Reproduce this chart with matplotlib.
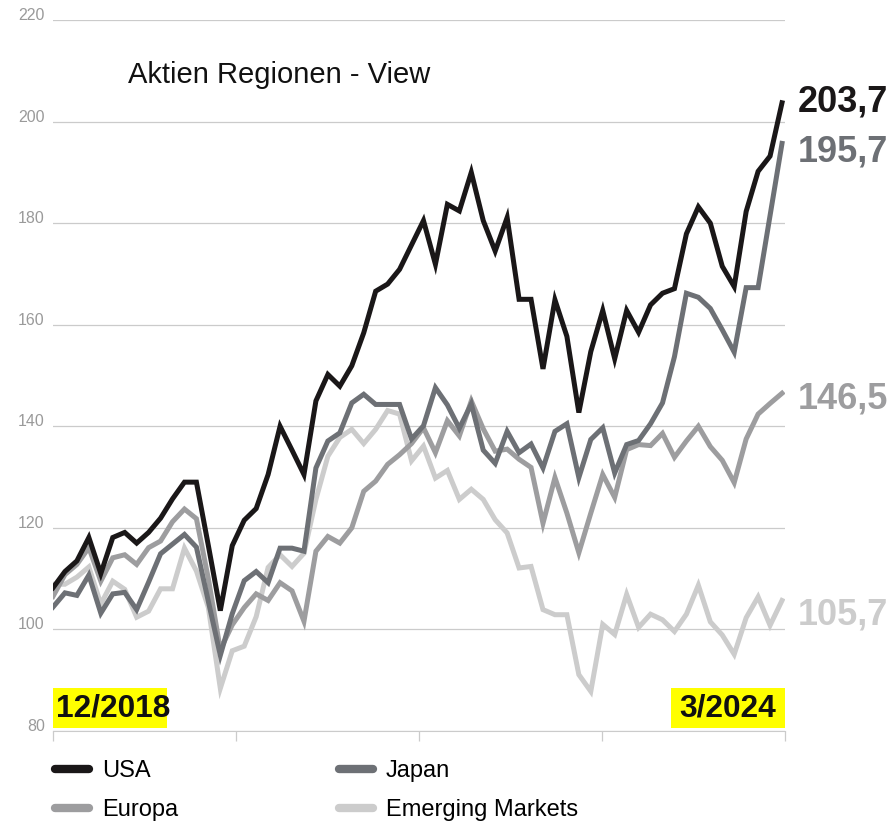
import numpy as np
import matplotlib
matplotlib.use("Agg")
import matplotlib.pyplot as plt
from matplotlib.lines import Line2D
from matplotlib.patches import Rectangle

plt.rcParams['font.family'] = ['Liberation Sans', 'DejaVu Sans']

# Indexwerte (Start 12/2018 = ca. 100), monatlich bis 3/2024
usa = [108.2, 111.4, 113.5, 118.1, 111.0, 118.1, 119.1, 117.0, 119.1, 121.9,
       125.7, 129.0, 129.0, 116.5, 103.7, 116.5, 121.5, 123.8, 130.5, 140.0,
       135.3, 130.5, 145.0, 150.2, 147.9, 151.9, 158.4, 166.6, 168.0, 170.9,
       175.7, 180.5, 171.9, 183.7, 182.4, 190.0, 180.5, 174.5, 181.1, 165.0,
       165.0, 151.3, 164.9, 157.7, 142.7, 154.7, 162.8, 153.3, 162.8, 158.5,
       163.9, 166.2, 167.1, 177.9, 183.2, 180.0, 171.5, 167.5, 182.3, 190.2,
       193.2, 203.7]
japan = [104.4, 107.2, 106.7, 110.7, 103.2, 107.0, 107.3, 103.9, 109.3, 114.9,
         116.8, 118.7, 116.2, 105.5, 94.9, 103.1, 109.6, 111.4, 109.2, 116.0,
         116.0, 115.4, 131.8, 137.1, 138.7, 144.6, 146.3, 144.3, 144.3, 144.3,
         137.5, 140.1, 147.6, 144.2, 139.6, 144.4, 135.3, 132.7, 139.0, 134.8,
         136.5, 131.8, 139.0, 140.5, 129.9, 137.4, 139.7, 130.8, 136.4, 137.2,
         140.5, 144.6, 153.7, 166.2, 165.4, 163.2, 159.0, 154.6, 167.3, 167.3,
         181.5, 195.7]
europa = [106.5, 110.8, 112.8, 116.1, 109.5, 114.1, 114.7, 112.8, 116.1, 117.4,
          121.2, 123.7, 121.8, 110.0, 96.0, 100.9, 104.3, 107.0, 105.7, 109.2,
          107.6, 101.6, 115.4, 118.3, 117.0, 120.0, 127.2, 129.2, 132.5, 134.4,
          136.6, 139.7, 134.8, 141.1, 138.1, 145.0, 139.5, 135.1, 135.5, 133.5,
          131.9, 120.9, 129.9, 122.9, 115.1, 122.9, 130.5, 126.0, 135.4, 136.4,
          136.2, 138.6, 133.9, 137.1, 140.0, 136.0, 133.3, 128.9, 137.5, 142.4,
          144.5, 146.5]
em = [108.9, 108.9, 110.3, 112.3, 105.0, 109.5, 107.9, 102.4, 103.6, 108.0,
      108.0, 116.0, 111.5, 104.3, 88.4, 95.8, 96.7, 102.5, 112.2, 114.7,
      112.4, 115.0, 125.6, 134.1, 137.8, 139.4, 136.6, 139.4, 143.1, 142.4,
      133.2, 136.1, 129.8, 131.3, 125.6, 127.6, 125.6, 121.6, 119.0, 112.1,
      112.4, 103.9, 102.9, 102.9, 91.1, 87.8, 101.0, 99.0, 106.9, 100.4,
      103.0, 101.9, 99.6, 103.0, 108.7, 101.5, 98.9, 95.1, 102.3, 106.4,
      100.8, 105.7]

names = ['USA', 'Japan', 'Europa', 'Emerging Markets']
colors = ['#1a1718', '#6d7075', '#9d9d9f', '#cccccc']
end_labels = ['203,7', '195,7', '146,5', '105,7']
label_shift = [-6, -13, -11, -17.5]   # Grundlinie relativ zum Endpunkt (pt)
series = [usa, japan, europa, em]

x = np.arange(len(usa))

fig = plt.figure(figsize=(8.92, 8.21), dpi=100)
ax = fig.add_axes([53 / 892, 1 - 731 / 821, 732 / 892, 711 / 821])

# Linien (EM unten, USA oben)
for i in [3, 2, 1, 0]:
    ax.plot(x, series[i], color=colors[i], lw=3.6, solid_joinstyle='miter', zorder=3 + (3 - i))
    ax.annotate(end_labels[i], xy=(x[-1], series[i][-1]), xytext=(11.5, label_shift[i]),
                textcoords='offset points', va='baseline', ha='left',
                fontsize=26, fontweight='bold', color=colors[i], annotation_clip=False)

ax.set_xlim(0, 61.25)
ax.set_ylim(80, 220)
ax.set_yticks(np.arange(80, 221, 20))
ax.set_xticks(np.linspace(0, 61.25, 5))
ax.set_xticklabels([])
ax.grid(axis='y', color='#cbcbcb', lw=0.9)
ax.set_axisbelow(True)
for s in ['top', 'right', 'left']:
    ax.spines[s].set_visible(False)
ax.spines['bottom'].set_color('#cbcbcb')
ax.tick_params(axis='x', direction='out', length=7, color='#cbcbcb', width=0.9)
ax.tick_params(axis='y', length=0, pad=6, labelsize=11.5, labelcolor='#9a9a9a')
for lab in ax.get_yticklabels():
    lab.set_va('baseline')

# Titel
fig.text(128 / 892, 1 - 75 / 821, 'Aktien Regionen - View', fontsize=21,
         va='center', ha='left', color='#111111')

# Datumsmarken
bw, bh, by = 114 / 732, 40 / 711, 3 / 711
ax.add_patch(Rectangle((0, by), bw, bh, transform=ax.transAxes, fc='#ffff00', ec='none', zorder=8))
ax.add_patch(Rectangle((1 - bw, by), bw, bh, transform=ax.transAxes, fc='#ffff00', ec='none', zorder=8))
ax.text(0.004, by + bh / 2, '12/2018', transform=ax.transAxes, fontsize=22.8,
        fontweight='bold', ha='left', va='center', color='#111111', zorder=9)
ax.text(0.9877, by + bh / 2, '3/2024', transform=ax.transAxes, fontsize=22.8,
        fontweight='bold', ha='right', va='center', color='#111111', zorder=9)

# Legende
handles = [Line2D([], [], color=c, lw=6, solid_capstyle='round') for c in colors]
order = [0, 2, 1, 3]
fig.legend([handles[i] for i in order], [names[i] for i in order], ncol=2,
           loc='upper left', bbox_to_anchor=(55 / 892, 1 - 760 / 821),
           frameon=False, fontsize=17, handlelength=1.45, handletextpad=0.55,
           columnspacing=6.8, labelspacing=0.72, borderaxespad=0, borderpad=0)

fig.savefig('out.png', dpi=100)
